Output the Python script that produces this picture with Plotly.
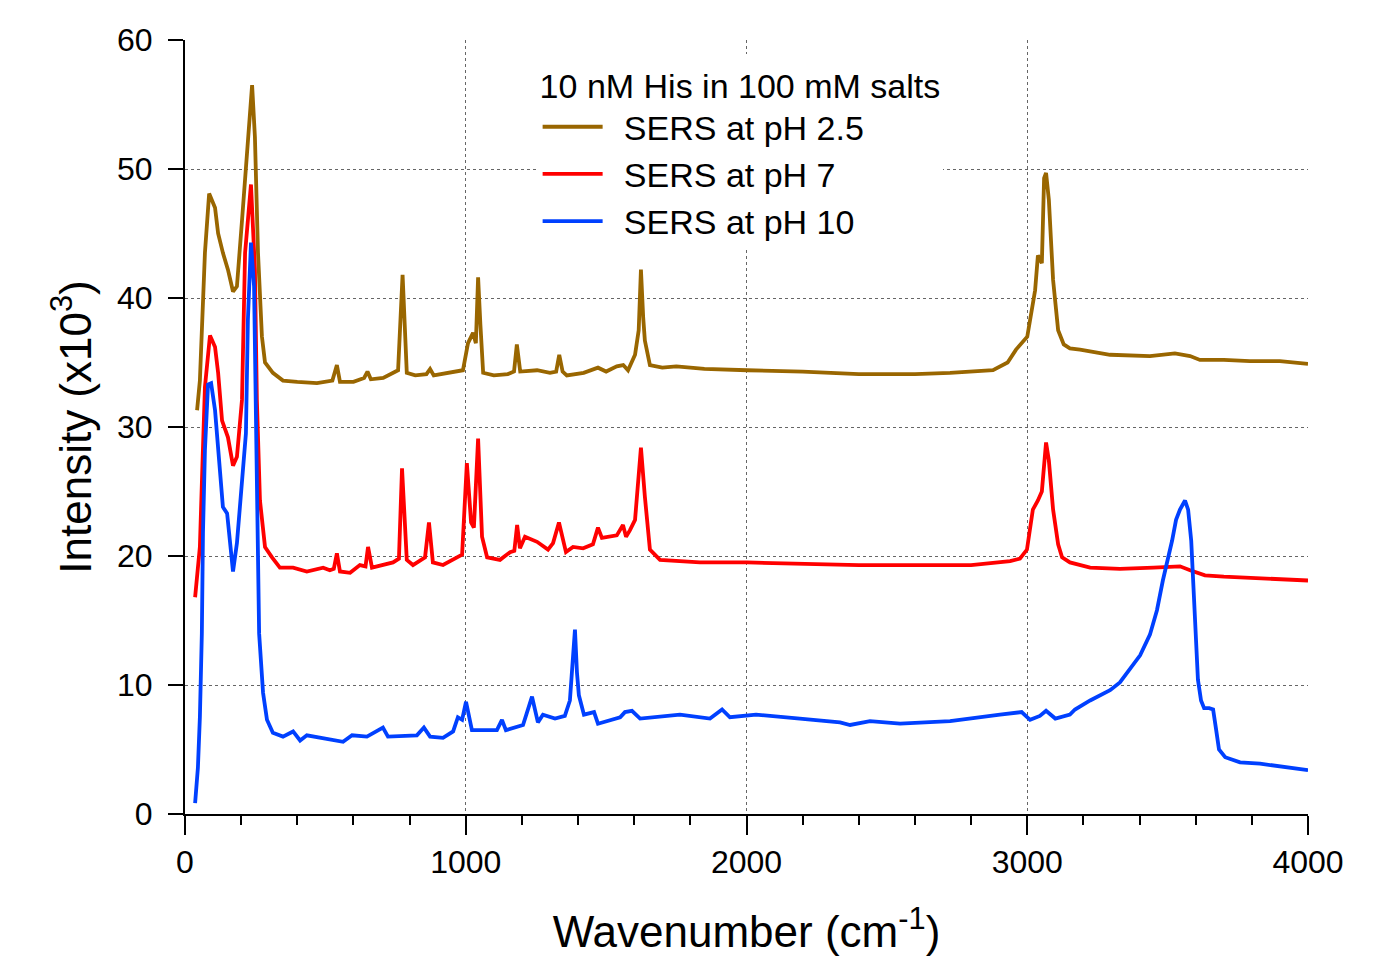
import plotly.graph_objects as go

# ---- data (wavenumber in cm^-1, intensity in x10^3) ----
x_ph25 = [43, 53, 71, 86, 107, 118, 135, 153, 171, 185, 203, 221, 239, 249, 260, 274, 285, 313, 349, 400, 470,
          525, 541, 552, 600, 638, 650, 662, 706, 759, 775, 790, 820, 860, 873, 886, 940, 990, 1008, 1026, 1036,
          1044, 1052, 1062, 1100, 1150, 1172, 1182, 1194, 1230, 1254, 1300, 1322, 1333, 1345, 1360, 1420, 1471,
          1500, 1538, 1561, 1578, 1603, 1616, 1624, 1632, 1638, 1656, 1700, 1750, 1850, 2002, 2200, 2400, 2600,
          2725, 2878, 2930, 2960, 3000, 3028, 3038, 3046, 3052, 3060, 3067, 3077, 3092, 3110, 3130, 3152, 3188,
          3295, 3437, 3526, 3580, 3615, 3700, 3793, 3900, 4000]
y_ph25 = [31.3, 33.6, 43.5, 48.1, 47.0, 45.0, 43.5, 42.2, 40.5, 40.9, 46.0, 51.2, 56.5, 52.5, 43.5, 37.0, 35.0,
          34.2, 33.6, 33.5, 33.4, 33.6, 34.8, 33.5, 33.5, 33.8, 34.3, 33.7, 33.8, 34.4, 41.8, 34.2, 34.0, 34.1,
          34.5, 34.0, 34.2, 34.4, 36.5, 37.3, 36.5, 41.6, 38.0, 34.2, 34.0, 34.1, 34.3, 36.4, 34.3, 34.4, 34.4,
          34.2, 34.3, 35.6, 34.3, 34.0, 34.2, 34.6, 34.3, 34.7, 34.8, 34.4, 35.6, 37.5, 42.2, 38.5, 36.7, 34.8,
          34.6, 34.7, 34.5, 34.4, 34.3, 34.1, 34.1, 34.2, 34.4, 35.0, 36.0, 37.0, 40.6, 43.3, 43.0, 42.7, 49.3,
          49.7, 47.6, 41.4, 37.5, 36.4, 36.1, 36.0, 35.6, 35.5, 35.7, 35.5, 35.2, 35.2, 35.1, 35.1, 34.9]

x_ph7 = [36, 53, 62, 71, 89, 107, 118, 132, 153, 171, 185, 203, 214, 235, 249, 256, 267, 285, 310, 338, 385, 434,
         492, 516, 530, 541, 552, 588, 623, 643, 652, 666, 741, 762, 773, 790, 812, 855, 869, 883, 919, 987, 1004,
         1019, 1029, 1044, 1058, 1076, 1122, 1158, 1173, 1183, 1193, 1211, 1254, 1293, 1311, 1332, 1357, 1382,
         1418, 1453, 1471, 1485, 1538, 1560, 1571, 1585, 1603, 1624, 1638, 1656, 1692, 1834, 2002, 2200, 2400,
         2600, 2800, 2939, 2974, 2999, 3020, 3038, 3052, 3067, 3077, 3092, 3110, 3124, 3152, 3224, 3330, 3450,
         3544, 3580, 3633, 3700, 3793, 3900, 4000]
y_ph7 = [16.8, 20.7, 27.0, 33.1, 37.1, 36.2, 34.2, 30.5, 29.2, 27.0, 27.7, 32.1, 43.5, 48.8, 42.2, 32.1, 24.3,
         20.7, 19.9, 19.1, 19.1, 18.8, 19.1, 18.9, 19.0, 20.2, 18.8, 18.7, 19.3, 19.2, 20.7, 19.1, 19.5, 19.8,
         26.8, 19.7, 19.3, 19.9, 22.6, 19.5, 19.3, 20.1, 27.2, 22.6, 22.2, 29.1, 21.5, 19.9, 19.7, 20.3, 20.4,
         22.4, 20.6, 21.5, 21.1, 20.5, 21.0, 22.6, 20.3, 20.7, 20.6, 20.9, 22.2, 21.4, 21.6, 22.4, 21.5, 22.0,
         22.8, 28.4, 24.6, 20.5, 19.7, 19.5, 19.5, 19.4, 19.3, 19.3, 19.3, 19.6, 19.8, 20.5, 23.6, 24.3, 25.0,
         28.8, 27.4, 23.6, 20.9, 19.9, 19.5, 19.1, 19.0, 19.1, 19.2, 18.9, 18.5, 18.4, 18.3, 18.2, 18.1]

x_ph10 = [36, 46, 53, 60, 64, 71, 82, 93, 107, 114, 125, 135, 150, 160, 171, 185, 203, 217, 224, 235, 246, 253,
          256, 264, 278, 292, 313, 349, 385, 410, 434, 492, 563, 595, 648, 705, 723, 826, 851, 873, 919, 955, 972,
          987, 1001, 1022, 1062, 1111, 1129, 1143, 1204, 1236, 1257, 1275, 1318, 1353, 1371, 1382, 1389, 1396,
          1403, 1421, 1442, 1457, 1471, 1550, 1567, 1592, 1621, 1763, 1870, 1913, 1941, 2034, 2190, 2333, 2369,
          2440, 2547, 2725, 2903, 2980, 3010, 3045, 3067, 3100, 3152, 3170, 3224, 3295, 3330, 3366, 3402, 3437,
          3462, 3483, 3501, 3516, 3530, 3544, 3562, 3573, 3584, 3594, 3601, 3608, 3619, 3630, 3648, 3662, 3673,
          3683, 3705, 3758, 3829, 3900, 4000]
y_ph10 = [0.85, 3.6, 7.5, 14.0, 21.8, 28.2, 33.3, 33.4, 31.3, 29.5, 26.1, 23.8, 23.3, 21.2, 18.8, 21.0, 25.7,
          29.5, 38.3, 44.3, 40.9, 29.5, 21.8, 14.0, 9.4, 7.3, 6.3, 6.0, 6.4, 5.7, 6.1, 5.9, 5.6, 6.1, 6.0, 6.7,
          6.0, 6.1, 6.7, 6.0, 5.9, 6.4, 7.5, 7.3, 8.7, 6.5, 6.5, 6.5, 7.3, 6.5, 6.9, 9.1, 7.1, 7.7, 7.4, 7.6, 8.8,
          12.0, 14.3, 11.0, 9.2, 7.7, 7.8, 7.9, 7.0, 7.5, 7.9, 8.0, 7.4, 7.7, 7.4, 8.1, 7.5, 7.7, 7.4, 7.1, 6.9,
          7.2, 7.0, 7.2, 7.7, 7.9, 7.3, 7.6, 8.0, 7.4, 7.7, 8.1, 8.8, 9.6, 10.2, 11.2, 12.3, 13.9, 15.8, 18.1,
          19.7, 21.2, 22.8, 23.6, 24.3, 23.6, 21.2, 16.6, 12.7, 10.4, 8.8, 8.2, 8.2, 8.1, 6.5, 5.0, 4.4, 4.0, 3.9,
          3.7, 3.4]

series_names = ["SERS at pH 2.5", "SERS at pH 7", "SERS at pH 10"]
series_colors = ["#996600", "#FF0000", "#0040FF"]
x_ticks = [0, 1000, 2000, 3000, 4000]
y_ticks = [0, 10, 20, 30, 40, 50, 60]

FONT = "Liberation Sans, Arial, sans-serif"

fig = go.Figure()
for xs, ys, name, col in zip([x_ph25, x_ph7, x_ph10], [y_ph25, y_ph7, y_ph10], series_names, series_colors):
    fig.add_trace(go.Scatter(x=xs, y=ys, mode="lines", name="\u00a0\u2009" + name,
                             line=dict(color=col, width=3.8)))

fig.update_layout(
    width=1383, height=956,
    margin=dict(l=177, r=83, t=32, b=150),
    paper_bgcolor="white", plot_bgcolor="white",
    font=dict(family=FONT, color="black"),
    showlegend=True,
    legend=dict(
        title=dict(text="10 nM His in 100 mM salts", font=dict(size=34, family=FONT)),
        font=dict(size=34, family=FONT),
        x=0.314, y=0.982, xanchor="left", yanchor="top",
        bgcolor="white", borderwidth=0, itemwidth=60,
        tracegroupgap=0,
    ),
)

fig.update_xaxes(
    range=[0, 4000], tickvals=x_ticks,
    showline=True, linecolor="black", linewidth=2, mirror=False,
    ticks="outside", ticklen=19, tickwidth=2, tickcolor="black",
    tickfont=dict(size=32, family=FONT),
    minor=dict(dtick=200, ticks="outside", ticklen=9, tickwidth=2, tickcolor="black", showgrid=False),
    showgrid=True, gridcolor="#666666", griddash="dot", gridwidth=1,
    zeroline=False,
    title=dict(text="Wavenumber (cm<sup>-1</sup>)", font=dict(size=44, family=FONT), standoff=37),
)
fig.update_yaxes(
    range=[0, 60], tickvals=y_ticks,
    showline=True, linecolor="black", linewidth=2, mirror=False,
    ticks="outside", ticklen=15, tickwidth=2, tickcolor="black",
    tickfont=dict(size=32, family=FONT), ticklabelstandoff=9,
    showgrid=True, gridcolor="#666666", griddash="dot", gridwidth=1,
    zeroline=False,
    title=dict(text="Intensity (x10<sup>3</sup>)", font=dict(size=44, family=FONT), standoff=12),
)

fig.write_html("out.html")
